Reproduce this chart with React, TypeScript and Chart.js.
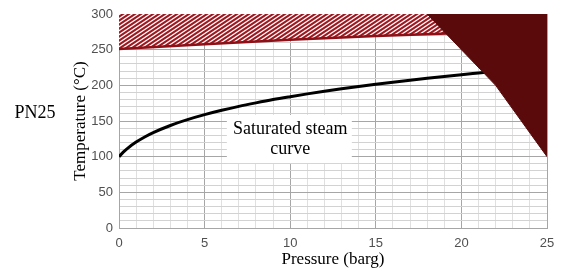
import { useEffect, useRef } from "react";
import { Chart, registerables } from "chart.js";

Chart.register(...registerables);

// ---- data ----
const pressureTickLabels = [0, 5, 10, 15, 20, 25];
const temperatureTickLabels = [0, 50, 100, 150, 200, 250, 300];

// saturated steam curve (barg -> °C)
const steamPressure = [0, 0.25, 0.5, 1, 1.5, 2, 3, 4, 5, 6, 7, 8, 9, 10, 11, 12, 13, 14, 15, 16, 17, 18, 19, 20, 21, 22];
const steamTemperature = [100, 106.3, 111.7, 120.4, 127.6, 133.7, 143.7, 151.9, 158.9, 165.0, 170.5, 175.4, 180.0, 184.1, 188.0, 191.7, 195.1, 198.3, 201.4, 204.4, 207.2, 209.9, 212.5, 215.0, 217.3, 219.6];

// lower boundary of hatched (not recommended) zone
const limitPressure = [0, 5, 10, 15, 20];
const limitTemperature = [251, 257.5, 264, 269, 273.5];

// PN25 rating boundary (dark zone)
const pn25Pressure = [18, 20, 22, 25];
const pn25Temperature = [300, 250, 200, 100];

// label annotation
const labelLines = ["Saturated steam", "curve"];
const labelPressure = 10;
const labelTemperature = 132;
const labelBoxPressure = [6.3, 13.6];
const labelBoxTemperature = [91, 158.5];

function toPoints(xs: number[], ys: number[]) {
  return xs.map((x, i) => ({ x, y: ys[i] }));
}

function makeHatch(): CanvasPattern | string {
  const c = document.createElement("canvas");
  c.width = 6;
  c.height = 4;
  const g = c.getContext("2d");
  if (!g) return "#a31c24";
  g.fillStyle = "#ffffff";
  g.fillRect(0, 0, 6, 4);
  g.strokeStyle = "#9e1820";
  g.lineWidth = 2.1;
  for (const off of [-4, 0, 4]) {
    g.beginPath();
    g.moveTo(-1, 4 + off + 4 / 6);
    g.lineTo(7, off - 4 / 6);
    g.stroke();
  }
  return g.createPattern(c, "repeat") || "#a31c24";
}

const labelPlugin = {
  id: "steamLabel",
  afterDatasetsDraw(chart: any) {
    const { ctx, scales } = chart;
    const x = scales.x;
    const y = scales.y;
    const l = x.getPixelForValue(labelBoxPressure[0]);
    const r = x.getPixelForValue(labelBoxPressure[1]);
    const t = y.getPixelForValue(labelBoxTemperature[1]);
    const b = y.getPixelForValue(labelBoxTemperature[0]);
    ctx.save();
    ctx.fillStyle = "#ffffff";
    ctx.fillRect(l, t, r - l, b - t);
    ctx.fillStyle = "#000000";
    ctx.font = '18px "Liberation Serif"';
    ctx.textAlign = "center";
    ctx.textBaseline = "alphabetic";
    const cx = x.getPixelForValue(labelPressure);
    const by = y.getPixelForValue(labelTemperature);
    labelLines.forEach((line, i) => ctx.fillText(line, cx, by + i * 20));
    ctx.restore();
  },
};

const sideLabelPlugin = {
  id: "sideLabel",
  afterDraw(chart: any) {
    const { ctx } = chart;
    ctx.save();
    ctx.fillStyle = "#000000";
    ctx.font = '18px "Liberation Serif"';
    ctx.textAlign = "center";
    ctx.textBaseline = "alphabetic";
    ctx.fillText("PN25", 35, 118);
    ctx.restore();
  },
};

export default function App() {
  const ref = useRef<HTMLCanvasElement | null>(null);

  useEffect(() => {
    if (!ref.current) return;
    const hatch = makeHatch();
    const chart = new Chart(ref.current, {
      type: "line",
      data: {
        datasets: [
          {
            label: "PN25 limit",
            data: toPoints(pn25Pressure, pn25Temperature),
            borderColor: "#5b0a0b",
            backgroundColor: "#5b0a0b",
            borderWidth: 1,
            pointRadius: 0,
            fill: "end",
            order: 1,
          },
          {
            label: "Saturated steam curve",
            data: toPoints(steamPressure, steamTemperature),
            borderColor: "#000000",
            borderWidth: 3,
            pointRadius: 0,
            cubicInterpolationMode: "monotone",
            fill: false,
            order: 2,
          },
          {
            label: "Hatched zone",
            data: toPoints(limitPressure, limitTemperature),
            borderColor: "#8e1016",
            backgroundColor: hatch as any,
            borderWidth: 2.5,
            pointRadius: 0,
            fill: "end",
            order: 3,
          },
        ],
      },
      options: {
        animation: false,
        responsive: true,
        maintainAspectRatio: false,
        layout: { padding: { left: 60, right: 21, top: 14, bottom: 0 } },
        plugins: {
          legend: { display: false },
          tooltip: { enabled: false },
        },
        scales: {
          x: {
            type: "linear",
            min: 0,
            max: 25,
            afterFit: (s: any) => {
              s.height = 43;
            },
            ticks: {
              stepSize: 1,
              autoSkip: false,
              maxRotation: 0,
              padding: 8,
              color: "#505050",
              font: { family: "Liberation Sans", size: 13 },
              callback: (v: any) => (pressureTickLabels.includes(Number(v)) ? String(v) : ""),
            },
            grid: {
              drawTicks: false,
              color: (c: any) => (pressureTickLabels.includes(c.tick?.value) ? "#a6a6a6" : "#e0e0e0"),
            },
            border: { color: "#a6a6a6" },
            title: {
              display: true,
              text: "Pressure (barg)",
              color: "#000000",
              font: { family: "Liberation Serif", size: 17 },
              padding: { top: 0, bottom: 1 },
            },
          },
          y: {
            type: "linear",
            min: 0,
            max: 300,
            afterFit: (s: any) => {
              s.width = 59;
            },
            ticks: {
              stepSize: 10,
              autoSkip: false,
              padding: 6,
              color: "#505050",
              font: { family: "Liberation Sans", size: 13 },
              callback: (v: any) => (temperatureTickLabels.includes(Number(v)) ? String(v) : ""),
            },
            grid: {
              drawTicks: false,
              color: (c: any) => (temperatureTickLabels.includes(c.tick?.value) ? "#a6a6a6" : "#d2d2d2"),
            },
            border: { color: "#a6a6a6" },
            title: {
              display: true,
              text: "Temperature (°C)",
              color: "#000000",
              font: { family: "Liberation Serif", size: 17 },
              padding: { top: 10, bottom: 0 },
            },
          },
        },
      },
      plugins: [labelPlugin, sideLabelPlugin],
    });
    return () => chart.destroy();
  }, []);

  return (
    <div style={{ position: "absolute", left: 0, top: 0, width: 568, height: 271 }}>
      <canvas ref={ref} />
    </div>
  );
}
